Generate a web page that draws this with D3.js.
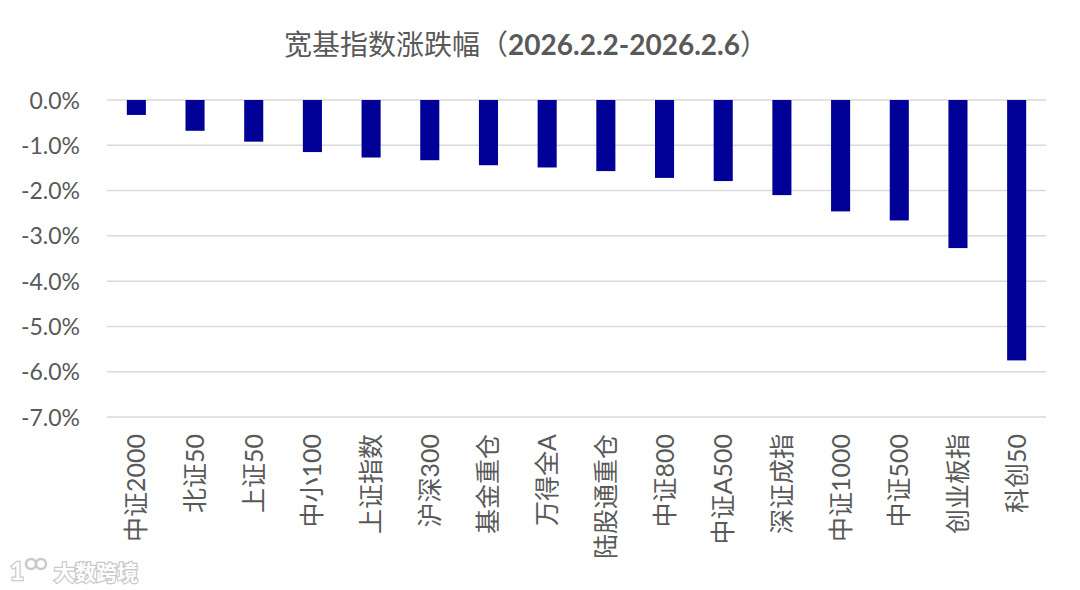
<!DOCTYPE html>
<html>
<head>
<meta charset="utf-8">
<script src="https://cdn.jsdelivr.net/npm/d3@7"></script>
<style>
  html, body { margin: 0; padding: 0; background: #ffffff; }
  svg { display: block; }
</style>
</head>
<body>
<svg id="chart" width="1080" height="590"></svg>
<script>
const categories = ["中证2000","北证50","上证50","中小100","上证指数","沪深300","基金重仓","万得全A","陆股通重仓","中证800","中证A500","深证成指","中证1000","中证500","创业板指","科创50"];
const values = [-0.33,-0.68,-0.92,-1.15,-1.27,-1.33,-1.44,-1.49,-1.57,-1.72,-1.79,-2.10,-2.46,-2.66,-3.27,-5.75];
const yTicks = [0,-1,-2,-3,-4,-5,-6,-7];
const titleMain = "宽基指数涨跌幅（";
const titleDates = "2026.2.2-2026.2.6";
const titleEnd = "）";

const W = 1080, H = 590;
const FONT = "Lato, 'Noto Sans CJK SC', sans-serif";
const TEXT = "#595959";
const svg = d3.select("#chart");

const x = d3.scaleBand().domain(categories).range([107, 1046]).padding(0);
const y = d3.scaleLinear().domain([-7, 0]).range([417, 100]);
const barW = x.bandwidth() * 0.325;

// gridlines
svg.append("g").selectAll("line").data(yTicks).join("line")
  .attr("x1", 107).attr("x2", 1046)
  .attr("y1", d => y(d)).attr("y2", d => y(d))
  .attr("stroke", "#d9d9d9").attr("stroke-width", 1.5);

// y axis via d3 axis
const yAxis = d3.axisLeft(y).tickValues(yTicks).tickSize(0).tickPadding(0)
  .tickFormat(d => (d < 0 ? "-" : "") + Math.abs(d).toFixed(1) + "%");
const ga = svg.append("g").attr("transform", "translate(80,0)").call(yAxis);
ga.select(".domain").remove();
ga.selectAll("text").attr("font-family", FONT).attr("font-size", 23)
  .attr("fill", TEXT).attr("dy", "0.35em");

// bars
svg.append("g").selectAll("rect").data(values).join("rect")
  .attr("x", (d, i) => x(categories[i]) + x.bandwidth() / 2 - barW / 2)
  .attr("width", barW)
  .attr("y", d => y(0))
  .attr("height", d => y(d) - y(0))
  .attr("fill", "#000096");

// x labels (rotated)
svg.append("g").selectAll("text").data(categories).join("text")
  .attr("transform", d => `translate(${x(d) + x.bandwidth() / 2},434) rotate(-90)`)
  .attr("text-anchor", "end")
  .attr("dy", "0.36em")
  .attr("font-family", FONT).attr("font-size", 25)
  .attr("fill", TEXT)
  .text(d => d);

// title
const t = svg.append("text")
  .attr("x", 526).attr("y", 55)
  .attr("text-anchor", "middle")
  .attr("font-family", FONT).attr("font-size", 28)
  .attr("fill", TEXT);
t.append("tspan").text(titleMain);
t.append("tspan").attr("font-weight", "bold").text(titleDates);
t.append("tspan").text(titleEnd);

// watermark
const wm = svg.append("g").attr("opacity", 0.9);
wm.append("text")
  .attr("x", 10).attr("y", 580)
  .attr("font-family", FONT).attr("font-size", 24).attr("font-weight", "bold")
  .attr("fill", "#ffffff").attr("stroke", "#c4c4c4").attr("stroke-width", 2.5)
  .attr("paint-order", "stroke")
  .text("1");
wm.selectAll("circle").data([0, 1]).join("circle")
  .attr("cx", d => 31 + d * 10).attr("cy", 564).attr("r", 5)
  .attr("fill", "none").attr("stroke", "#c4c4c4").attr("stroke-width", 2.5);
wm.append("text")
  .attr("x", 54).attr("y", 580)
  .attr("font-family", "'Noto Sans CJK SC', sans-serif").attr("font-size", 21)
  .attr("font-weight", "bold")
  .attr("fill", "#ffffff").attr("stroke", "#c4c4c4").attr("stroke-width", 2.5)
  .attr("paint-order", "stroke")
  .text("大数跨境");
</script>
</body>
</html>
